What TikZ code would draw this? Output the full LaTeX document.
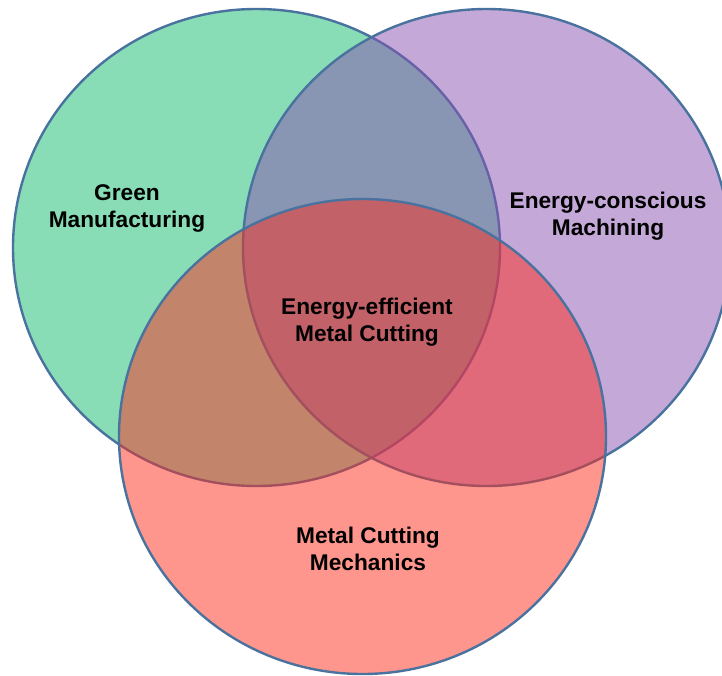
\documentclass[tikz,border=0pt]{standalone}
\usepackage{fontspec}
\setmainfont{Liberation Sans}
\definecolor{edge}{RGB}{74,114,158}
\definecolor{gfill}{RGB}{136,221,183}
\definecolor{pfill}{RGB}{137,81,177}
\definecolor{rfill}{RGB}{253,45,30}
\tikzset{
  ring/.style={draw=edge, line width=2.4pt},
  lbl/.style={align=center, font=\fontsize{22.7}{27}\selectfont\bfseries, text=black, inner sep=0pt}
}
\begin{document}
\begin{tikzpicture}[x=1pt,y=-1pt]
\useasboundingbox (0,0) rectangle (722,675);
\path[ring, fill=gfill] (256.5,247.5) ellipse [x radius=243.5, y radius=238.5];
\path[ring, fill=pfill, fill opacity=0.5] (486.5,247.5) ellipse [x radius=243.5, y radius=238.5];
\path[ring, fill=rfill, fill opacity=0.5] (362.5,436.5) ellipse [x radius=243.5, y radius=237.5];
\node[lbl] (gm) at (127,208.5) {Green\\Manufacturing};
\node[lbl] (ecm) at (608,216) {Energy-conscious\\Machining};
\node[lbl] (eemc) at (367,322) {Energy-efficient\\Metal Cutting};
\node[lbl] (mcm) at (368,549) {Metal Cutting\\Mechanics};
\end{tikzpicture}
\end{document}
